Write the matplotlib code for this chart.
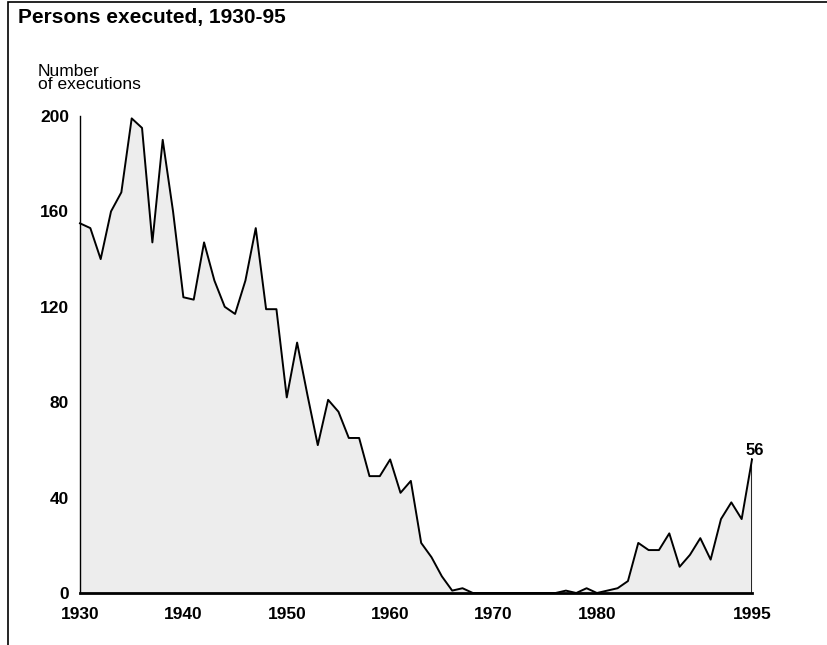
import matplotlib
matplotlib.use("Agg")
import matplotlib.pyplot as plt
from matplotlib.patches import Rectangle

years = list(range(1930, 1996))
executions = [155, 153, 140, 160, 168, 199, 195, 147, 190, 160,
              124, 123, 147, 131, 120, 117, 131, 153, 119, 119,
              82, 105, 83, 62, 81, 76, 65, 65, 49, 49,
              56, 42, 47, 21, 15, 7, 1, 2, 0, 0,
              0, 0, 0, 0, 0, 0, 0, 1, 0, 2,
              0, 1, 2, 5, 21, 18, 18, 25, 11, 16,
              23, 14, 31, 38, 31, 56]
yticks = [0, 40, 80, 120, 160, 200]
xticks = [1930, 1940, 1950, 1960, 1970, 1980, 1995]

plt.rcParams['font.family'] = ['Liberation Sans', 'DejaVu Sans']

fig = plt.figure(figsize=(8.27, 6.45), dpi=100)
ax = fig.add_axes([80/827, 1-593/645, (752-80)/827, (593-116)/645])

ax.fill_between(years, executions, 0, color='#ededed', linewidth=0)
ax.plot(years, executions, color='black', linewidth=1.4, clip_on=False)
ax.plot([years[-1], years[-1]], [0, executions[-1]], color='black', linewidth=1.2)
ax.annotate(str(executions[-1]), (years[-1], executions[-1]), xytext=(2, 1),
            textcoords='offset points', ha='center', va='bottom',
            fontsize=12, fontweight='bold')

ax.set_xlim(1930, 1995)
ax.set_ylim(0, 200)
ax.set_xticks(xticks)
ax.set_xticklabels([str(x) for x in xticks], fontsize=12.5, fontweight='bold')
ax.set_yticks(yticks)
ax.set_yticklabels([str(y) for y in yticks], fontsize=12.5, fontweight='bold')
ax.tick_params(length=0)
ax.tick_params(axis='x', pad=10)
ax.tick_params(axis='y', pad=8)
for s in ['top', 'right']:
    ax.spines[s].set_visible(False)
ax.spines['left'].set_linewidth(1.0)
ax.spines['bottom'].set_linewidth(2.0)
ax.set_facecolor('none')

fig.text(18/827, 1-18/645, 'Persons executed, 1930-95', fontsize=15,
         fontweight='bold', ha='left', va='center')
fig.text(38/827, 1-78/645, 'Number\nof executions', fontsize=12.5,
         ha='left', va='center', linespacing=0.9)

fig.add_artist(Rectangle((8/827, -0.01), 1.02, 1-2/645 + 0.01, transform=fig.transFigure,
                         fill=False, edgecolor='black', linewidth=1.2))

fig.savefig('out.png', dpi=100)
